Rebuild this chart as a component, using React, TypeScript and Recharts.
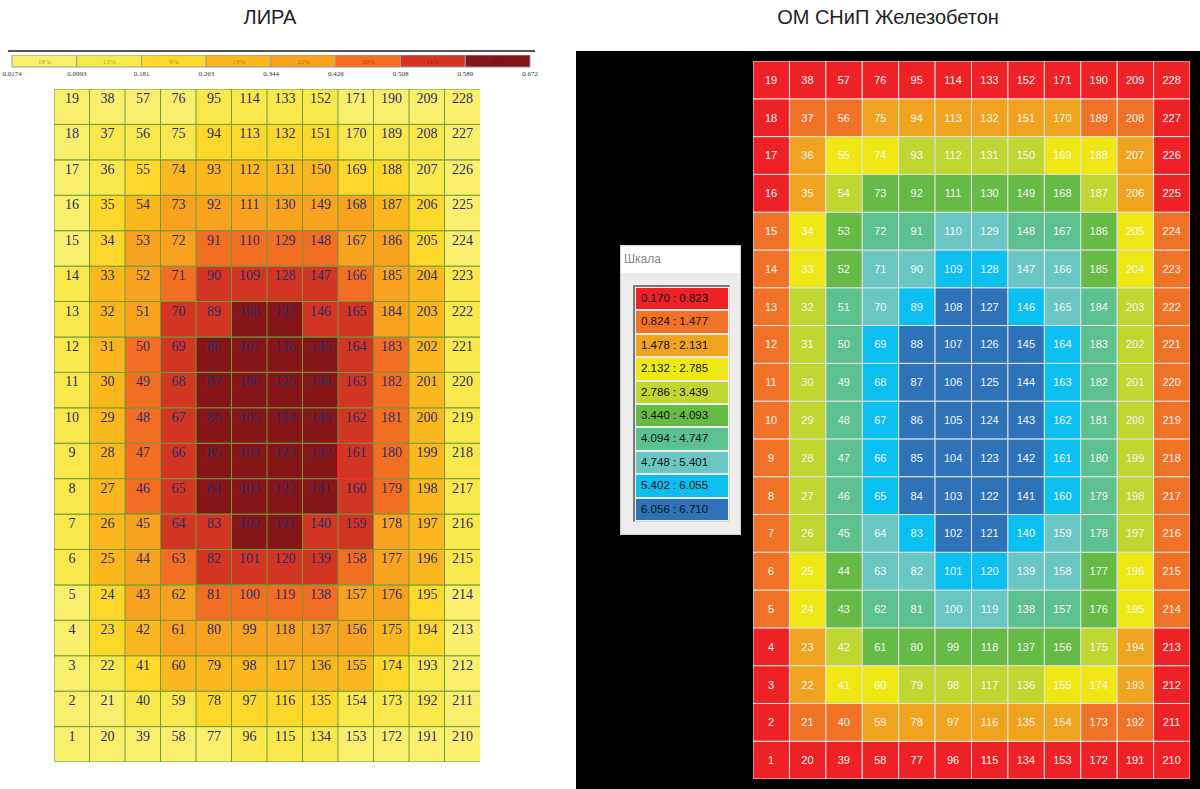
import { BarChart, Bar, XAxis, YAxis, LabelList } from "recharts";

const ROWS = 19;
const COLS = 12;

// ЛИРА: colour class of each cell, top row (nodes 19..228) to bottom row (1..210)
const liraLevels: number[][] = [
  [0, 0, 0, 0, 1, 1, 1, 1, 0, 0, 0, 0],
  [0, 1, 1, 1, 2, 2, 2, 2, 1, 1, 1, 0],
  [0, 1, 2, 3, 3, 3, 3, 3, 2, 2, 1, 0],
  [0, 2, 3, 4, 4, 4, 4, 4, 4, 3, 2, 0],
  [0, 2, 4, 4, 5, 5, 5, 5, 4, 4, 2, 0],
  [1, 3, 4, 5, 6, 6, 6, 6, 5, 4, 3, 1],
  [1, 3, 4, 6, 6, 7, 7, 6, 6, 4, 3, 1],
  [1, 3, 5, 6, 7, 7, 7, 7, 6, 5, 3, 1],
  [1, 3, 5, 6, 7, 7, 7, 7, 6, 5, 3, 1],
  [1, 3, 5, 6, 7, 7, 7, 7, 6, 5, 3, 1],
  [1, 3, 5, 6, 7, 7, 7, 7, 6, 5, 3, 1],
  [1, 3, 5, 6, 7, 7, 7, 7, 6, 5, 3, 1],
  [1, 3, 4, 6, 6, 7, 7, 6, 6, 4, 3, 1],
  [1, 3, 4, 5, 6, 6, 6, 6, 5, 4, 3, 1],
  [0, 2, 4, 4, 5, 5, 5, 5, 4, 4, 2, 0],
  [0, 2, 3, 4, 4, 4, 4, 4, 4, 3, 2, 0],
  [0, 1, 2, 3, 3, 3, 3, 3, 3, 2, 1, 0],
  [0, 0, 1, 1, 2, 2, 2, 2, 1, 1, 1, 0],
  [0, 0, 0, 0, 0, 1, 1, 1, 0, 0, 0, 0],
];

// ОМ СНиП Железобетон: colour class of each cell, same order
const omLevels: number[][] = [
  [0, 0, 0, 0, 0, 0, 0, 0, 0, 0, 0, 0],
  [0, 1, 1, 2, 2, 2, 2, 2, 2, 1, 1, 0],
  [0, 2, 3, 3, 4, 4, 4, 4, 3, 3, 2, 0],
  [0, 2, 4, 5, 5, 5, 5, 5, 5, 4, 2, 0],
  [1, 3, 5, 6, 6, 7, 7, 6, 6, 5, 3, 1],
  [1, 3, 5, 7, 7, 8, 8, 7, 7, 5, 3, 1],
  [1, 4, 6, 7, 8, 9, 9, 8, 7, 6, 4, 1],
  [1, 4, 6, 8, 9, 9, 9, 9, 8, 6, 4, 1],
  [1, 4, 6, 8, 9, 9, 9, 9, 8, 6, 4, 1],
  [1, 4, 6, 8, 9, 9, 9, 9, 8, 6, 4, 1],
  [1, 4, 6, 8, 9, 9, 9, 9, 8, 6, 4, 1],
  [1, 4, 6, 8, 9, 9, 9, 9, 8, 6, 4, 1],
  [1, 4, 6, 7, 8, 9, 9, 8, 7, 6, 4, 1],
  [1, 3, 5, 7, 7, 8, 8, 7, 7, 5, 3, 1],
  [1, 3, 5, 6, 6, 7, 7, 6, 6, 5, 3, 1],
  [0, 2, 4, 5, 5, 5, 5, 5, 5, 4, 2, 0],
  [0, 2, 3, 3, 4, 4, 4, 4, 3, 3, 2, 0],
  [0, 1, 1, 2, 2, 2, 2, 2, 2, 1, 1, 0],
  [0, 0, 0, 0, 0, 0, 0, 0, 0, 0, 0, 0],
];

const liraColors = ["#faef6c", "#f9e84b", "#fdd82a", "#fbb71e", "#f8a220", "#f26e22", "#d23522", "#861517"];
const liraPercents = ["18%", "13%", "9%", "13%", "12%", "10%", "11%", "11%"];
const liraBounds = ["0.0174", "0.0993", "0.181", "0.263", "0.344", "0.426", "0.508", "0.589", "0.672"];

const omColors = ["#ee2226", "#f07226", "#f0a31f", "#efe815", "#c0d731", "#66bb46", "#5dc08f", "#69c6c3", "#0bbff0", "#2e73b8"];
const omRanges = [
  "0.170 : 0.823",
  "0.824 : 1.477",
  "1.478 : 2.131",
  "2.132 : 2.785",
  "2.786 : 3.439",
  "3.440 : 4.093",
  "4.094 : 4.747",
  "4.748 : 5.401",
  "5.402 : 6.055",
  "6.056 : 6.710",
];

const rowsBottomUp = Array.from({ length: ROWS }, (_, i) => i + 1);
const columns = Array.from({ length: COLS }, (_, col) => {
  const entry: Record<string, number> = { col };
  rowsBottomUp.forEach((r) => (entry[`r${r}`] = 1));
  return entry;
});

type GridProps = {
  width: number;
  height: number;
  levels: number[][];
  colors: string[];
  stroke: string;
  textColor: string;
  fontFamily: string;
  fontSize: number;
  textBaseline: (y: number, h: number) => number;
  highlight?: number;
};

function Grid(g: GridProps) {
  return (
    <BarChart
      width={g.width}
      height={g.height}
      data={columns}
      margin={{ top: 0, right: 0, bottom: 0, left: 0 }}
      barCategoryGap={0}
      barGap={0}
    >
      <XAxis dataKey="col" type="category" hide />
      <YAxis type="number" domain={[0, ROWS]} tickCount={20} scale="linear" hide />
      {rowsBottomUp.map((row) => (
        <Bar
          key={row}
          dataKey={`r${row}`}
          stackId="grid"
          isAnimationActive={false}
          shape={(p: any) => {
            const col = p.payload.col;
            const node = col * ROWS + row;
            const fill = g.colors[g.levels[ROWS - row][col]];
            const hl = g.highlight === node;
            return (
              <g>
                <rect x={p.x} y={p.y} width={p.width + 0.5} height={p.height} fill={fill} stroke={hl ? "#ff2a2a" : g.stroke} strokeWidth={hl ? 1.5 : 1} />
                <text
                  x={p.x + p.width / 2}
                  y={g.textBaseline(p.y, p.height)}
                  textAnchor="middle"
                  fill={g.textColor}
                  fontFamily={g.fontFamily}
                  fontSize={g.fontSize}
                >
                  {node}
                </text>
              </g>
            );
          }}
        />
      ))}
    </BarChart>
  );
}

const legendData = [Object.fromEntries([["name", "scale"], ...liraColors.map((_, i) => [`b${i}`, 1])])];

function LiraLegend() {
  return (
    <BarChart
      width={542}
      height={26}
      layout="vertical"
      data={legendData}
      margin={{ top: 0, right: 12, bottom: 0, left: 12 }}
      barCategoryGap={0}
    >
      <XAxis
        type="number"
        domain={[0, 8]}
        ticks={[0, 1, 2, 3, 4, 5, 6, 7, 8]}
        tickCount={9}
        scale="linear"
        tickFormatter={(v: number) => liraBounds[v]}
        axisLine={false}
        tickLine={false}
        tickSize={2}
        height={14}
        tick={{ fontSize: 7, fontFamily: "Liberation Serif", fill: "#333" }}
      />
      <YAxis type="category" dataKey="name" hide />
      {liraColors.map((c, i) => (
        <Bar key={i} dataKey={`b${i}`} stackId="s" fill={c} stroke="#9a9a9a" strokeWidth={1} isAnimationActive={false}>
          <LabelList
            content={(p: any) => (
              <text
                x={p.x + p.width / 2}
                y={p.y + p.height / 2 + 2.5}
                textAnchor="middle"
                fontSize={7}
                fontFamily="Liberation Serif"
                fill="rgba(0,0,0,0.35)"
              >
                {liraPercents[i]}
              </text>
            )}
          />
        </Bar>
      ))}
    </BarChart>
  );
}

export default function App() {
  return (
    <div
      style={{
        position: "absolute",
        left: 0,
        top: 0,
        width: 1200,
        height: 789,
        background: "#fff",
        overflow: "hidden",
        fontFamily: "Liberation Sans, Arial, sans-serif",
      }}
    >
      <div style={{ position: "absolute", left: 170, width: 200, top: 6, textAlign: "center", fontSize: 20, color: "#222" }}>
        ЛИРА
      </div>
      <div style={{ position: "absolute", left: 688, width: 400, top: 6, textAlign: "center", fontSize: 20, color: "#222" }}>
        ОМ СНиП Железобетон
      </div>

      <div style={{ position: "absolute", left: 8, top: 50, width: 527, height: 2, background: "#555" }} />
      <div style={{ position: "absolute", left: 0, top: 55 }}>
        <LiraLegend />
      </div>

      <div style={{ position: "absolute", left: 54, top: 89 }}>
        <Grid
          width={426}
          height={673}
          levels={liraLevels}
          colors={liraColors}
          stroke="#6f9c3a"
          textColor="#2a2c6c"
          fontFamily="Liberation Serif, serif"
          fontSize={14}
          textBaseline={(y) => y + 14}
          highlight={161}
        />
      </div>

      <div style={{ position: "absolute", left: 576, top: 51, width: 624, height: 738, background: "#000" }} />

      <div
        style={{
          position: "absolute",
          left: 620,
          top: 245,
          width: 121,
          height: 290,
          background: "#ececec",
          boxSizing: "border-box",
          border: "1px solid #d0d0d0",
        }}
      >
        <div style={{ height: 27, background: "#fff", color: "#8a8a8a", fontSize: 12, lineHeight: "27px", paddingLeft: 3 }}>
          Шкала
        </div>
        <div
          style={{
            position: "absolute",
            left: 12,
            top: 39,
            width: 97,
            height: 237,
            boxSizing: "border-box",
            borderTop: "2px solid #7a7a7a",
            borderLeft: "2px solid #7a7a7a",
            borderRight: "1px solid #d8d8d8",
            borderBottom: "1px solid #d8d8d8",
            background: "#ececec",
            paddingTop: 1,
            paddingLeft: 1,
          }}
        >
          {omRanges.map((r, i) => (
            <div
              key={r}
              style={{
                height: 21.4,
                marginBottom: 2,
                width: 92,
                background: omColors[i],
                color: "#111",
                fontSize: 11.5,
                lineHeight: "21px",
                paddingLeft: 5,
                boxSizing: "border-box",
              }}
            >
              {r}
            </div>
          ))}
        </div>
      </div>

      <div style={{ position: "absolute", left: 753, top: 61 }}>
        <Grid
          width={437}
          height={718}
          levels={omLevels}
          colors={omColors}
          stroke="#e4e4e4"
          textColor="#f6f6f6"
          fontFamily="Liberation Sans, Arial, sans-serif"
          fontSize={11}
          textBaseline={(y, h) => y + h / 2 + 4}
        />
      </div>
    </div>
  );
}
